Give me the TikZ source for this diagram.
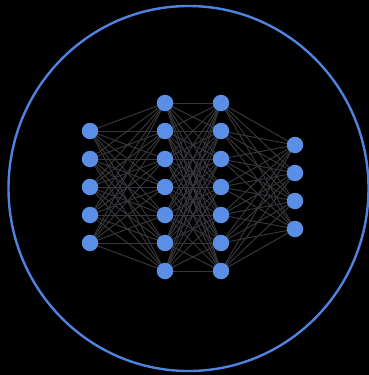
\documentclass[tikz,border=0pt]{standalone}
\definecolor{nodeblue}{HTML}{5B8FE6}
\definecolor{ringblue}{HTML}{5083E0}
\definecolor{edgegrey}{HTML}{36363B}
\begin{document}
\begin{tikzpicture}[x=1pt,y=-1pt,
  neuron/.style={circle,fill=nodeblue,draw=none,minimum size=16.5pt,inner sep=0pt},
  link/.style={draw=edgegrey,line width=1pt}]
\fill[black] (0,0) rectangle (369,375);
\useasboundingbox (0,0) rectangle (369,375);
\begin{scope}
\clip (0,0) rectangle (369,375);
\draw[ringblue,line width=2.4pt] (188.5,188.5) ellipse [x radius=180, y radius=182.5];
\end{scope}
% positions
\foreach \i in {1,...,5} \coordinate (a\i) at (90,{103+28*\i});
\foreach \i in {1,...,7} \coordinate (b\i) at (165,{75+28*\i});
\foreach \i in {1,...,7} \coordinate (c\i) at (221,{75+28*\i});
\foreach \i in {1,...,4} \coordinate (d\i) at (295,{117+28*\i});
% edges
\foreach \i in {1,...,5} \foreach \j in {1,...,7} \draw[link] (a\i) -- (b\j);
\foreach \i in {1,...,7} \foreach \j in {1,...,7} \draw[link] (b\i) -- (c\j);
\foreach \i in {1,...,7} \foreach \j in {1,...,4} \draw[link] (c\i) -- (d\j);
% nodes
\foreach \i in {1,...,5} \node[neuron] (na\i) at (a\i) {};
\foreach \i in {1,...,7} \node[neuron] (nb\i) at (b\i) {};
\foreach \i in {1,...,7} \node[neuron] (nc\i) at (c\i) {};
\foreach \i in {1,...,4} \node[neuron] (nd\i) at (d\i) {};
\end{tikzpicture}
\end{document}
